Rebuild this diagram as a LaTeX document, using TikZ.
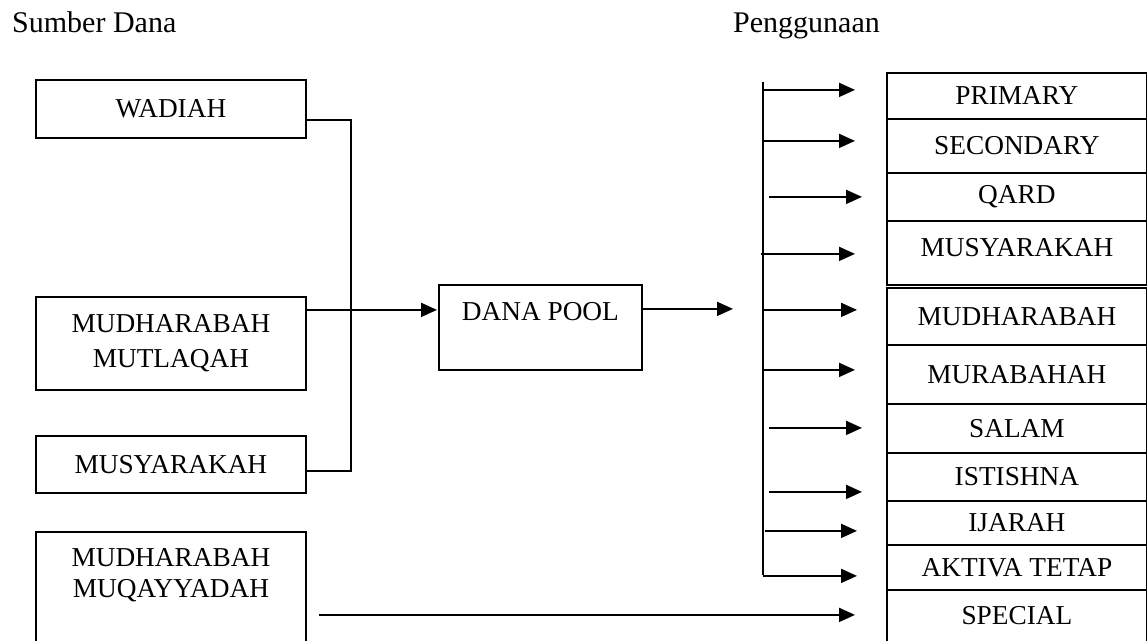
\documentclass[tikz,border=0pt]{standalone}
\usepackage{fontspec}
\setmainfont{Liberation Serif}
\usetikzlibrary{arrows.meta,calc}
\begin{document}
\begin{tikzpicture}[x=1pt, y=-1pt,
        every node/.style={font=\fontsize{27.3}{31}\selectfont},
        box/.style={draw, rectangle, line width=1.8pt, inner sep=0pt, anchor=north west, align=center},% framed box
        src/.style={box, minimum width=270pt},% sumber dana
        use/.style={box, minimum width=260pt},% penggunaan
        head/.style={anchor=base west, inner sep=0pt, font=\fontsize{30}{34}\selectfont},% column heading
        link/.style={line width=1.8pt},% plain connector
        arr/.style={link, -{Triangle[length=16pt, width=14pt]}},% connector with tip
    ]
    \useasboundingbox (0,0) rectangle (1147,640);

    \node[head] (sumber) at (12,32) {Sumber Dana};
    \node[head] (guna) at (733,32) {Penggunaan};

    % sumber dana
    \node[src, minimum height=58pt] (wadiah) at (35,79) {WADIAH};
    \node[src, minimum height=93pt] (mutlaqah) at (35,296) {MUDHARABAH\\[4pt]MUTLAQAH};
    \node[src, minimum height=57pt] (musyS) at (35,435) {MUSYARAKAH};
    \node[src, minimum height=114pt] (muqayyadah) at (35,531) {MUDHARABAH\\MUQAYYADAH\\ \mbox{}};

    \node[box, minimum width=203pt, minimum height=85pt] (pool) at (438,284) {DANA POOL\\ \mbox{}};

    % penggunaan
    \node[use, minimum height=46pt] (primary) at (886,72) {PRIMARY};
    \node[use, minimum height=54pt] (secondary) at (886,118) {SECONDARY};
    \node[use, minimum height=48pt] (qard) at (886,172) {QARD};
    \node[use, minimum height=64pt, text depth=10pt] (musyU) at (886,220) {MUSYARAKAH};
    \node[use, minimum height=57pt] (mudU) at (886,287) {MUDHARABAH};
    \node[use, minimum height=59pt] (murabahah) at (886,344) {MURABAHAH};
    \node[use, minimum height=49pt] (salam) at (886,403) {SALAM};
    \node[use, minimum height=48pt] (istishna) at (886,452) {ISTISHNA};
    \node[use, minimum height=44pt] (ijarah) at (886,500) {IJARAH};
    \node[use, minimum height=45pt, fill=white] (aktiva) at (886,544) {AKTIVA TETAP};
    \node[use, minimum height=52pt] (special) at (886,589) {SPECIAL};

    % connectors left
    \coordinate (join) at (351,300);
    \draw[link] ($(wadiah.east)+(0,11)$) -| (join) |- ($(musyS.east)+(0,6.5)$);
    \draw[arr, shorten >=1pt] ($(mutlaqah.east)+(0,-33.5)$) coordinate (m) -- (m -| pool.west);

    % spine to penggunaan
    \coordinate (spinetop) at (763,82);
    \coordinate (spinebot) at (763,575);
    \draw[link] (spinetop) -- (spinebot);
    \draw[arr, shorten >=30pt] ($(pool.east)+(0,-18.5)$) coordinate (p) -- (p -| spinetop);

    \foreach \nm/\dy/\gap/\tip in {primary/-6/0/31, secondary/-5/0/31, qard/0/6/24, musyU/1/-2/31,
            mudU/-6.5/0/29, murabahah/-4.5/0/31, salam/-0.5/6/24, istishna/15/6/24,
            ijarah/8/2/29, aktiva/8.5/0/29}
        \draw[arr, shorten >=\tip pt] ($(spinetop |- \nm.west)+(\gap,\dy)$) -- ($(\nm.west)+(0,\dy)$);

    \draw[arr, shorten <=12pt, shorten >=31pt] ($(muqayyadah.east)+(0,26)$) coordinate (q) -- (q -| special.west);
\end{tikzpicture}
\end{document}
